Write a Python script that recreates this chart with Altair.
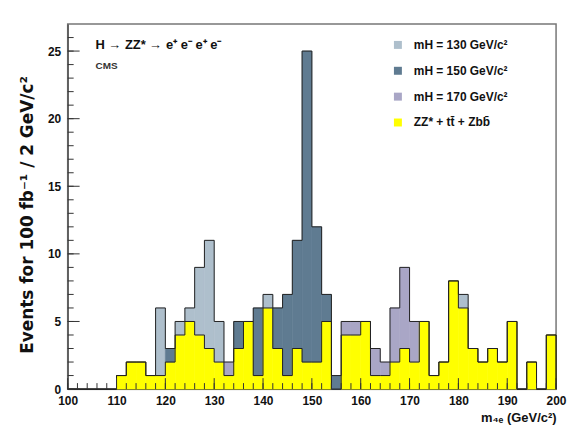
import altair as alt
import pandas as pd

# ---- data (events per 2 GeV bin) ----
bin_lo = list(range(100, 200, 2))  # lower bin edges, 2 GeV wide
bkg = [0, 0, 0, 0, 0, 1, 2, 2, 1, 1,
       2, 4, 5, 4, 3, 2, 1, 3, 5, 1,
       6, 3, 1, 3, 2, 2, 5, 0, 4, 4,
       5, 1, 1, 2, 3, 2, 5, 1, 2, 8,
       6, 3, 2, 3, 2, 5, 0, 2, 0, 4]
m130 = [0, 0, 0, 0, 0, 0, 0, 0, 0, 5,
        0, 1, 1, 5, 8, 3, 0, 0, 0, 0,
        1, 0, 0, 0, 0, 0, 0, 0, 0, 0,
        0, 0, 0, 0, 0, 0, 0, 0, 0, 0,
        1, 0, 0, 0, 0, 0, 0, 0, 0, 0]
m150 = [0, 0, 0, 0, 0, 0, 0, 0, 0, 0,
        1, 0, 0, 0, 0, 0, 0, 2, 0, 5,
        0, 3, 6, 8, 23, 10, 2, 1, 0, 0,
        0, 0, 0, 0, 0, 0, 0, 0, 0, 0,
        0, 0, 0, 0, 0, 0, 0, 0, 0, 0]
m170 = [0, 0, 0, 0, 0, 0, 0, 0, 0, 0,
        0, 0, 0, 0, 0, 0, 1, 0, 0, 0,
        0, 0, 0, 0, 0, 0, 0, 0, 1, 1,
        0, 2, 1, 4, 6, 3, 0, 0, 0, 0,
        0, 0, 0, 0, 0, 0, 0, 0, 0, 0]

comps = ["mH = 130 GeV/c²", "mH = 150 GeV/c²", "mH = 170 GeV/c²", "ZZ* + tt̄ + Zbb̄"]
colors = ["#aebfcc", "#5f7b91", "#a9a6c6", "#ffff00"]

x_major = [100, 110, 120, 130, 140, 150, 160, 170, 180, 190, 200]
x_minor = list(range(100, 201, 2))
y_major = [0, 5, 10, 15, 20, 25]
y_minor = list(range(0, 27, 1))

W, H = 491, 367
FONT = "Liberation Sans"

rows = []
for i, lo in enumerate(bin_lo):
    for name, arr, o in [(comps[3], bkg, 0), (comps[0], m130, 1),
                         (comps[1], m150, 2), (comps[2], m170, 3)]:
        rows.append({"lo": lo, "hi": lo + 2, "comp": name, "n": arr[i], "o": o})
df = pd.DataFrame(rows)

tot = [bkg[i] + m130[i] + m150[i] + m170[i] for i in range(len(bin_lo))]
lrows = []
for lvl, arr in [("bkg", bkg), ("tot", tot)]:
    for i, lo in enumerate(bin_lo):
        lrows.append({"x": lo, "v": arr[i], "lvl": lvl})
    lrows.append({"x": 200, "v": 0, "lvl": lvl})
ldf = pd.DataFrame(lrows)

xs = alt.Scale(domain=[100, 200], nice=False, zero=False)
ys = alt.Scale(domain=[0, 27], nice=False)

x_axis = alt.Axis(
    values=x_major, ticks=False, grid=False, labelPadding=7,
    labelFontSize=12, labelFontWeight="bold", labelFont=FONT, labelColor="#111",
    labelFlush=False, labelOverlap=False, domainColor="#333",
    title="m₄ₑ (GeV/c²)", titleAnchor="end", titleFontSize=13,
    titleFont=FONT, titleFontWeight="bold", titlePadding=5, titleColor="#111")
y_axis = alt.Axis(
    values=y_major, ticks=False, grid=False, labelPadding=7,
    labelFontSize=12, labelFontWeight="bold", labelFont=FONT, labelColor="#111",
    labelFlush=False, labelOverlap=False, domainColor="#333",
    title="Events for 100 fb⁻¹ / 2 GeV/c²", titleFontSize=17,
    titleFont="DejaVu Sans", titleFontWeight="bold", titleColor="#111",
    titleX=-40, titleY=H / 2 + 8, titleAngle=270, titleAlign="center",
    titleBaseline="middle")

cscale = alt.Scale(domain=comps, range=colors)

bars = alt.Chart(df).transform_stack(
    stack="n", groupby=["lo"], as_=["y0", "y1"],
    sort=[alt.SortField("o", order="ascending")]
).transform_filter("datum.n > 0").mark_rect(strokeWidth=0.6).encode(
    x=alt.X("lo:Q", scale=xs, axis=x_axis),
    x2="hi:Q",
    y=alt.Y("y0:Q", scale=ys, axis=y_axis),
    y2="y1:Q",
    color=alt.Color("comp:N", scale=cscale,
                    legend=alt.Legend(orient="none", legendX=326, legendY=15,
                                      title=None, symbolType="square", symbolSize=64,
                                      symbolStrokeWidth=0, labelFontSize=12,
                                      labelFont=FONT, labelFontWeight="bold",
                                      labelColor="#111", rowPadding=14, labelOffset=10)),
    stroke=alt.Stroke("comp:N", scale=cscale, legend=None),
)

lines = alt.Chart(ldf).mark_line(interpolate="step-after", color="#222",
                                 strokeWidth=1).encode(
    x=alt.X("x:Q", scale=xs, axis=x_axis),
    y=alt.Y("v:Q", scale=ys, axis=y_axis),
    detail="lvl:N",
)

def yticks(vals, length):
    return alt.Chart(pd.DataFrame({"v": vals})).mark_rule(color="#333", strokeWidth=1).encode(
        y=alt.Y("v:Q", scale=ys, axis=y_axis), x=alt.value(0), x2=alt.value(length))

def xticks(vals, length):
    return alt.Chart(pd.DataFrame({"v": vals})).mark_rule(color="#333", strokeWidth=1).encode(
        x=alt.X("v:Q", scale=xs, axis=x_axis), y=alt.value(H), y2=alt.value(H - length))

txt1 = alt.Chart(pd.DataFrame({"t": ["H → ZZ* → e⁺ e⁻ e⁺ e⁻"]})).mark_text(
    align="left", baseline="alphabetic", font=FONT, fontSize=13, fontWeight="bold",
    color="#111").encode(text="t:N", x=alt.value(28), y=alt.value(25))
txt2 = alt.Chart(pd.DataFrame({"t": ["CMS"]})).mark_text(
    align="left", baseline="alphabetic", font=FONT, fontSize=10, fontWeight="bold",
    color="#333").encode(text="t:N", x=alt.value(28), y=alt.value(45))

chart = alt.layer(
    bars, lines,
    yticks(y_minor, 6), yticks(y_major, 12),
    xticks(x_minor, 6), xticks(x_major, 11),
    txt1, txt2,
).properties(
    width=W, height=H,
    autosize=alt.AutoSizeParams(type="none"),
    padding={"left": 60, "top": 15, "right": 12, "bottom": 35},
).configure_view(stroke="#777", strokeWidth=1.5)

chart.save("out.html", embed_options={"renderer": "svg", "actions": False})
